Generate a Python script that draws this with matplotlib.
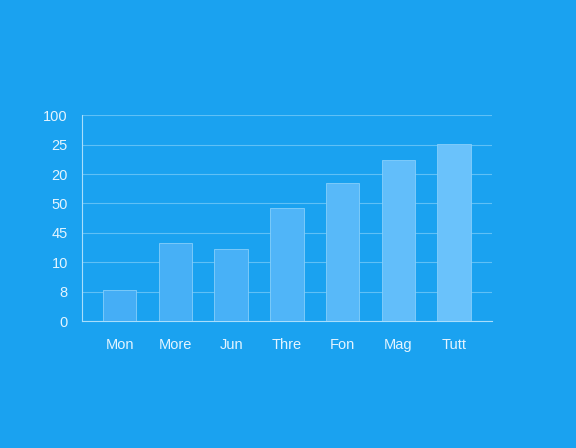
import matplotlib
matplotlib.use("Agg")
import matplotlib.pyplot as plt

categories = ["Mon", "More", "Jun", "Thre", "Fon", "Mag", "Tutt"]
values = [1.05, 2.64, 2.44, 3.83, 4.71, 5.46, 6.03]
tick_labels = ["0", "8", "10", "45", "50", "20", "25", "100"]
bar_colors = ["#45aef6", "#47b0f6", "#48b1f7", "#50b5f8", "#58b9f9", "#62befa", "#6ac2fb"]

plt.rcParams["font.family"] = ["Liberation Sans", "DejaVu Sans"]
bg = "#1aa2f0"
fig = plt.figure(figsize=(5.76, 4.48), dpi=100, facecolor=bg)
ax = fig.add_axes([0.142, 0.283, 0.712, 0.46], facecolor=bg)
x = range(len(categories))
ax.bar(x, values, width=0.6, color=bar_colors, edgecolor="#86cffb", linewidth=0.6, zorder=3)
ax.set_xlim(-0.68, 6.68)
ax.set_ylim(0, 7)
ax.set_yticks(range(8))
ax.set_yticklabels(tick_labels)
ax.set_xticks(list(x))
ax.set_xticklabels(categories)
ax.grid(axis="y", color="#5fc0f6", linewidth=0.8, zorder=0)
for s in ["top", "right"]:
    ax.spines[s].set_visible(False)
for s in ["left", "bottom"]:
    ax.spines[s].set_color("#a8defc")
ax.tick_params(axis="both", colors="#e3f4ff", length=0, labelsize=10.5)
ax.tick_params(axis="x", pad=12)
ax.tick_params(axis="y", pad=10)
fig.savefig("out.png", dpi=100, facecolor=bg)
